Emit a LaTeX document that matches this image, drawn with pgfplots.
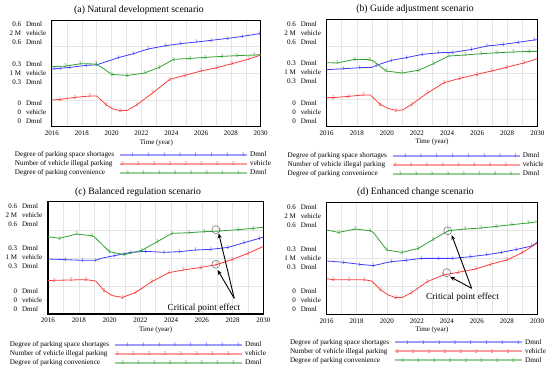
\documentclass[border=0pt]{standalone}
\usepackage{fontspec}
\setmainfont{Liberation Serif}
\usepackage{pgfplots}
\pgfplotsset{compat=1.18}
\usetikzlibrary{arrows.meta}
\definecolor{bl}{RGB}{60,60,250}
\definecolor{rd}{RGB}{250,60,60}
\definecolor{gr}{RGB}{50,160,50}
\newcommand{\tickfont}{\fontsize{7}{8.4}\selectfont}
\newcommand{\legfont}{\fontsize{7.2}{9}\selectfont}
\newcommand{\markfont}{\fontsize{5.5}{5.5}\selectfont}
\newcommand{\titlefont}{\fontsize{9.7}{11}\selectfont}
\newcommand{\ylab}[3]{\begin{tabular}{@{}r@{\hspace{5pt}}l@{}}#1 & Dmnl\\#2 & vehicle\\#3 & Dmnl\end{tabular}}
\newcommand{\legimg}[4]{%
  \draw[#1, line width=2pt, draw opacity=0.5] (0pt,0pt) -- (127pt,0pt);
  \foreach \k in {0,...,7}{\node[inner sep=0pt, text=#1, font=\markfont] at ({#3pt+15.8pt*\k},0pt) {#2};}
  \node[anchor=west, inner sep=0pt, text=black, font=\legfont] at (130pt,0pt) {#4};}
\pgfplotsset{vstyle/.style={
  scale only axis, xmin=2016, xmax=2030, ymin=0, ymax=1,
  clip mode=individual,
  xtick={2016,2018,2020,2022,2024,2026,2028,2030},
  xticklabels={2016,2018,2020,2022,2024,2026,2028,2030},
  minor xtick={2017,2019,2021,2023,2025,2027,2029},
  ytick={0,0.25,0.5,0.75,1}, yticklabels={},
  grid=both, major grid style={gray!20, line width=0.5pt}, minor grid style={gray!20, line width=0.5pt},
  major tick length=0pt, minor tick length=0pt,
  axis line style={black, line width=1pt},
  xticklabel style={font=\tickfont, inner sep=0pt, yshift=-4pt},
  xlabel={Time (year)},
  xlabel style={font=\tickfont, at={(axis description cs:0.5,0)}, anchor=center, yshift=-16pt, inner sep=0pt},
  legend plot pos=right, legend cell align=left,
  legend style={draw=none, fill=none, inner sep=0pt, outer sep=0pt, row sep=0pt, column sep=5pt,
    font=\legfont, nodes={inner sep=0pt, text height=6.3pt, text depth=2.7pt},
    at={(axis description cs:0,0)}, anchor=north west},
  every axis plot/.append style={line width=0.8pt},
},
bser/.style={bl, mark=text, text mark={1}, text mark as node=true,
  text mark style={font=\markfont, text=bl, inner sep=0pt},
  legend image code/.code={\legimg{bl}{1}{11}{Dmnl}}},
rser/.style={rd, mark=text, text mark={2}, text mark as node=true,
  text mark style={font=\markfont, text=rd, inner sep=0pt},
  legend image code/.code={\legimg{rd}{2}{1}{vehicle}}},
gser/.style={gr, mark=text, text mark={3}, text mark as node=true,
  text mark style={font=\markfont, text=gr, inner sep=0pt},
  legend image code/.code={\legimg{gr}{3}{6}{Dmnl}}}
}
\newcommand{\ylabels}{%
  \node[anchor=north east, inner sep=0pt, xshift=-5.5pt, font=\fontsize{7}{9}\selectfont] at (rel axis cs:0,1) {\ylab{0.6}{2 M}{0.6}};
  \node[anchor=east, inner sep=0pt, xshift=-5.5pt, font=\fontsize{7}{9}\selectfont] at (rel axis cs:0,0.5) {\ylab{0.3}{1 M}{0.3}};
  \node[anchor=south east, inner sep=0pt, xshift=-5.5pt, font=\fontsize{7}{9}\selectfont] at (rel axis cs:0,0) {\ylab{0}{0}{0}};}
\begin{document}
\begin{tikzpicture}
\path[use as bounding box] (0pt,0pt) rectangle (550pt,-370pt);
% ---------------- (a)
\node[font=\titlefont] at (139pt,-10pt) {(a) Natural development scenario};
\begin{axis}[vstyle, at={(52pt,-20pt)}, anchor=north west, width=208.7pt, height=106.7pt,
  legend style={xshift=-37pt, yshift=-23.7pt}]
\addplot[bser, mark indices={2,3,4,5,6,7,8,9,10,11,12,13,14,15,16}] coordinates {
(2016.0,0.540) (2016.15,0.543) (2016.55,0.548) (2017.2,0.556) (2018.3,0.575) (2019.0,0.580)
(2020.45,0.647) (2021.45,0.684) (2022.45,0.728) (2023.6,0.759) (2024.6,0.778) (2025.7,0.794)
(2026.7,0.810) (2027.8,0.828) (2028.8,0.847) (2029.9,0.872) (2030,0.875)};
\addplot[rser, mark indices={2,3,4,6,8,10,11,12,13,14,15,16,17}] coordinates {
(2016,0.250) (2016.55,0.256) (2017.55,0.275) (2018.55,0.288) (2019.0,0.288) (2019.65,0.203)
(2020.1,0.166) (2020.6,0.150) (2021.05,0.153) (2021.7,0.206) (2022.75,0.316) (2023.9,0.444)
(2024.9,0.481) (2026.0,0.522) (2027.05,0.553) (2028.05,0.590) (2029.2,0.634) (2030,0.672)};
\addplot[gser, mark indices={2,3,4,6,7,8,9,10,11,12,13,14,15}] coordinates {
(2016,0.563) (2016.9,0.568) (2017.9,0.590) (2018.95,0.588) (2019.45,0.545) (2020.0,0.490)
(2021.05,0.480) (2022.2,0.503) (2023.2,0.556) (2024.15,0.631) (2025.25,0.640) (2026.3,0.650)
(2027.4,0.659) (2028.4,0.666) (2029.55,0.672) (2030,0.675)};
\legend{Degree of parking space shortages,Number of vehicle illegal parking,Degree of parking convenience}
\ylabels
\end{axis}
% ---------------- (b)
\node[font=\titlefont] at (415pt,-9pt) {(b) Guide adjustment scenario};
\begin{axis}[vstyle, at={(326.7pt,-19.7pt)}, anchor=north west, width=210.6pt, height=106.6pt,
  legend style={xshift=-39pt, yshift=-24.8pt}]
\addplot[bser, mark indices={2,3,5,6,7,8,9,10,11,12,13,14,15}] coordinates {
(2016,0.531) (2017.1,0.540) (2018.2,0.550) (2019.0,0.553) (2019.3,0.572) (2020.3,0.619)
(2021.3,0.644) (2022.35,0.675) (2023.45,0.690) (2024.4,0.694) (2025.65,0.722) (2026.65,0.753)
(2027.75,0.769) (2028.75,0.788) (2029.8,0.810) (2030,0.813)};
\addplot[rser, mark indices={2,3,4,6,8,10,11,12,13,14,15,16,17}] coordinates {
(2016,0.269) (2016.45,0.269) (2017.45,0.281) (2018.45,0.294) (2018.9,0.294) (2019.55,0.206)
(2020.1,0.166) (2020.6,0.150) (2021.05,0.153) (2021.65,0.206) (2022.7,0.313) (2023.8,0.409)
(2024.85,0.450) (2026.0,0.488) (2026.95,0.519) (2027.95,0.553) (2029.1,0.594) (2030,0.634)};
\addplot[gser, mark indices={2,3,4,6,7,8,9,10,11,12,13,14,15}] coordinates {
(2016,0.597) (2016.7,0.594) (2017.85,0.628) (2018.85,0.625) (2019.1,0.613) (2019.95,0.519)
(2021.0,0.500) (2022.1,0.525) (2023.1,0.588) (2024.1,0.659) (2025.2,0.669) (2026.25,0.681)
(2027.3,0.690) (2028.4,0.697) (2029.45,0.703) (2030,0.703)};
\legend{Degree of parking space shortages,Number of vehicle illegal parking,Degree of parking convenience}
\ylabels
\end{axis}
% ---------------- (c)
\node[font=\titlefont] at (138pt,-191.7pt) {(c) Balanced regulation scenario};
\begin{axis}[vstyle, at={(48pt,-201.7pt)}, anchor=north west, width=215.3pt, height=112.3pt,
  axis line style={line width=1.4pt},
  legend style={xshift=-38pt, yshift=-26.4pt}]
\addplot[bser, mark indices={2,3,4,6,7,8,9,10,11,12,13,14,15}] coordinates {
(2016,0.490) (2017.15,0.484) (2018.25,0.478) (2019.1,0.478) (2019.45,0.496) (2020.3,0.519)
(2021.4,0.549) (2022.35,0.558) (2023.55,0.549) (2024.55,0.555) (2025.6,0.570) (2026.6,0.576)
(2027.7,0.593) (2028.75,0.635) (2029.75,0.674) (2030,0.685)};
\addplot[rser, mark indices={2,3,4,6,8,9,10,11,12,13,14,15,16}] coordinates {
(2016,0.297) (2016.4,0.300) (2017.5,0.303) (2018.45,0.306) (2019.1,0.294) (2019.65,0.208)
(2020.2,0.163) (2020.85,0.148) (2021.7,0.193) (2022.75,0.288) (2023.85,0.368) (2024.8,0.392)
(2025.95,0.415) (2026.95,0.439) (2028.0,0.487) (2029.0,0.540) (2030,0.602)};
\addplot[gser, mark indices={2,3,4,6,7,8,9,10,11,12,13,14,15}] coordinates {
(2016,0.688) (2016.75,0.674) (2017.85,0.712) (2018.85,0.697) (2019.0,0.688) (2020.0,0.555)
(2020.95,0.528) (2022.1,0.567) (2023.1,0.644) (2024.05,0.718) (2025.15,0.724) (2026.15,0.733)
(2027.15,0.739) (2028.35,0.751) (2029.35,0.763) (2030,0.772)};
\legend{Degree of parking space shortages,Number of vehicle illegal parking,Degree of parking convenience}
\ylabels
\draw[black!60, line width=0.5pt] (axis cs:2026.92,0.751) circle[radius=4pt];
\draw[black!60, line width=0.5pt] (axis cs:2026.92,0.443) circle[radius=4pt];
\draw[line width=0.9pt, -{Stealth[length=5pt,width=4pt]}] (axis cs:2028.11,0.140) -- (axis cs:2027.10,0.719);
\draw[line width=0.9pt, -{Stealth[length=5pt,width=4pt]}] (axis cs:2028.11,0.140) -- (axis cs:2027.03,0.392);
\node[font=\fontsize{9.3}{10}\selectfont, inner sep=0pt] at (axis cs:2026.14,0.053) {Critical point effect};
\end{axis}
% ---------------- (d)
\node[font=\titlefont] at (415.5pt,-192pt) {(d) Enhanced change scenario};
\begin{axis}[vstyle, at={(326.7pt,-202.7pt)}, anchor=north west, width=210.3pt, height=111.6pt,
  legend style={xshift=-36.7pt, yshift=-23.5pt}]
\addplot[bser, mark indices={2,3,4,5,6,7,8,9,10,11,12,13,14}] coordinates {
(2016,0.478) (2017.1,0.466) (2018.2,0.448) (2019.1,0.436) (2020.3,0.472) (2021.3,0.484)
(2022.3,0.501) (2023.45,0.501) (2024.4,0.501) (2025.55,0.516) (2026.65,0.534) (2027.65,0.555)
(2028.65,0.582) (2029.65,0.612) (2030,0.645)};
\addplot[rser, mark indices={2,3,4,6,8,10,11,12,13,14,15,16,17}] coordinates {
(2016,0.319) (2016.45,0.310) (2017.5,0.310) (2018.5,0.310) (2019.0,0.298) (2019.6,0.218)
(2020.1,0.173) (2020.6,0.149) (2021.05,0.152) (2021.65,0.194) (2022.7,0.293) (2023.75,0.352)
(2024.75,0.376) (2025.9,0.406) (2026.9,0.448) (2028.0,0.487) (2029.0,0.552) (2030,0.636)};
\addplot[gser, mark indices={2,3,4,6,7,8,9,10,11,12,13,14,15}] coordinates {
(2016,0.755) (2016.8,0.734) (2017.9,0.764) (2018.9,0.749) (2019.1,0.734) (2020.0,0.576)
(2021.0,0.555) (2022.1,0.591) (2023.1,0.672) (2024.1,0.749) (2025.2,0.764) (2026.25,0.773)
(2027.3,0.788) (2028.3,0.803) (2029.4,0.818) (2030,0.830)};
\legend{Degree of parking space shortages,Number of vehicle illegal parking,Degree of parking convenience}
\ylabels
\draw[black!60, line width=0.5pt] (axis cs:2024.06,0.749) circle[radius=4pt];
\draw[black!60, line width=0.5pt] (axis cs:2023.99,0.373) circle[radius=4pt];
\draw[line width=0.9pt, -{Stealth[length=5pt,width=4pt]}] (axis cs:2025.65,0.233) -- (axis cs:2024.32,0.711);
\draw[line width=0.9pt, -{Stealth[length=5pt,width=4pt]}] (axis cs:2025.65,0.233) -- (axis cs:2024.21,0.337);
\node[font=\fontsize{9.3}{10}\selectfont, inner sep=0pt] at (axis cs:2025.04,0.149) {Critical point effect};
\end{axis}
\end{tikzpicture}
\end{document}
